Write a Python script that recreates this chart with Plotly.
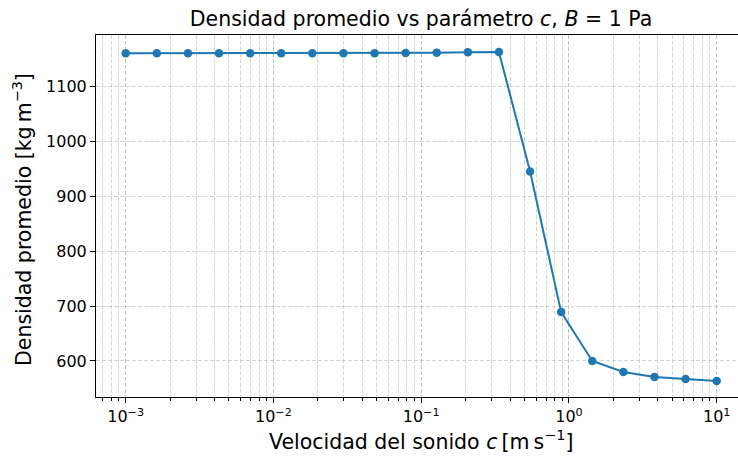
import plotly.graph_objects as go

c_vals = [1.000e-3, 1.624e-3, 2.637e-3, 4.281e-3, 6.952e-3, 1.129e-2, 1.833e-2,
          2.976e-2, 4.833e-2, 7.848e-2, 1.274e-1, 2.069e-1, 3.360e-1, 5.456e-1,
          8.859e-1, 1.438e0, 2.336e0, 3.793e0, 6.158e0, 1.000e1]
rho_vals = [1160.5, 1160.5, 1160.5, 1160.5, 1160.5, 1160.5, 1160.5, 1160.5, 1160.5, 1161,
            1161.5, 1162, 1162.5, 945, 689, 600, 580, 571, 567.3, 563.6]

xtick_vals = [1e-3, 1e-2, 1e-1, 1e0, 1e1]
xtick_text = ["10<sup>−3</sup>", "10<sup>−2</sup>", "10<sup>−1</sup>", "10<sup>0</sup>", "10<sup>1</sup>"]
ytick_vals = [600, 700, 800, 900, 1000, 1100]

W, H = 738, 456
L, R, T, B = 96, 0, 35, 59
font = "DejaVu Sans"
grid = "rgba(176,176,176,0.55)"

fig = go.Figure()
fig.add_trace(go.Scatter(
    x=c_vals, y=rho_vals, mode="lines+markers",
    line=dict(color="#1f77b4", width=2),
    marker=dict(color="#1f77b4", size=8.5),
    cliponaxis=False,
))

ph = H - T - B
pw = W - L - R
fig.update_layout(
    width=W, height=H,
    margin=dict(l=L, r=R, t=T, b=B),
    paper_bgcolor="white", plot_bgcolor="white",
    showlegend=False,
    font=dict(family=font, size=16, color="black"),
    title=dict(text="Densidad promedio vs parámetro <i>c</i>, <i>B</i> = 1 Pa",
               x=(421 - L) / pw, xanchor="center", xref="paper",
               y=1 - 19 / H, yanchor="middle",
               font=dict(size=20.5)),
    xaxis=dict(
        type="log", range=[-3.201, -3.201 + pw / 147.75],
        tickvals=xtick_vals, ticktext=xtick_text,
        ticks="outside", ticklen=5, tickwidth=1.1, tickcolor="black",
        showline=True, linecolor="black", linewidth=1.1, mirror=True,
        showgrid=True, gridcolor=grid, griddash="4px,2px", gridwidth=1,
        minor=dict(ticks="outside", ticklen=3, tickwidth=1, tickcolor="black", showgrid=True,
                   gridcolor=grid, griddash="4px,2px", gridwidth=1, dtick="D1"),
        tickfont=dict(size=16),
        automargin=False,
        zeroline=False,
    ),
    yaxis=dict(
        range=[534.4, 1193.6],
        tickvals=ytick_vals,
        ticks="outside", ticklen=5, tickwidth=1.1, tickcolor="black",
        showline=True, linecolor="black", linewidth=1.1, mirror=False,
        showgrid=True, gridcolor=grid, griddash="4px,2px", gridwidth=1,
        tickfont=dict(size=16),
        automargin=False,
        zeroline=False,
    ),
    annotations=[
        dict(text="Velocidad del sonido <i>c</i>\u2009[m\u2009s<sup>−1</sup>]",
             xref="paper", yref="paper", x=(421 - L) / pw, y=-(441 - (H - B)) / ph,
             xanchor="center", yanchor="middle", showarrow=False,
             font=dict(size=20.5)),
        dict(text="Densidad promedio [kg\u2009m<sup>−3</sup>]",
             xref="paper", yref="paper", x=-(L - 22) / pw, y=(H - B - 220) / ph,
             xanchor="center", yanchor="middle", textangle=-90, showarrow=False,
             font=dict(size=20.5)),
    ],
)
fig.write_html("out.html",
               config={"displayModeBar": False},
               post_script="document.body.style.margin='0';document.body.style.overflow='hidden';")
